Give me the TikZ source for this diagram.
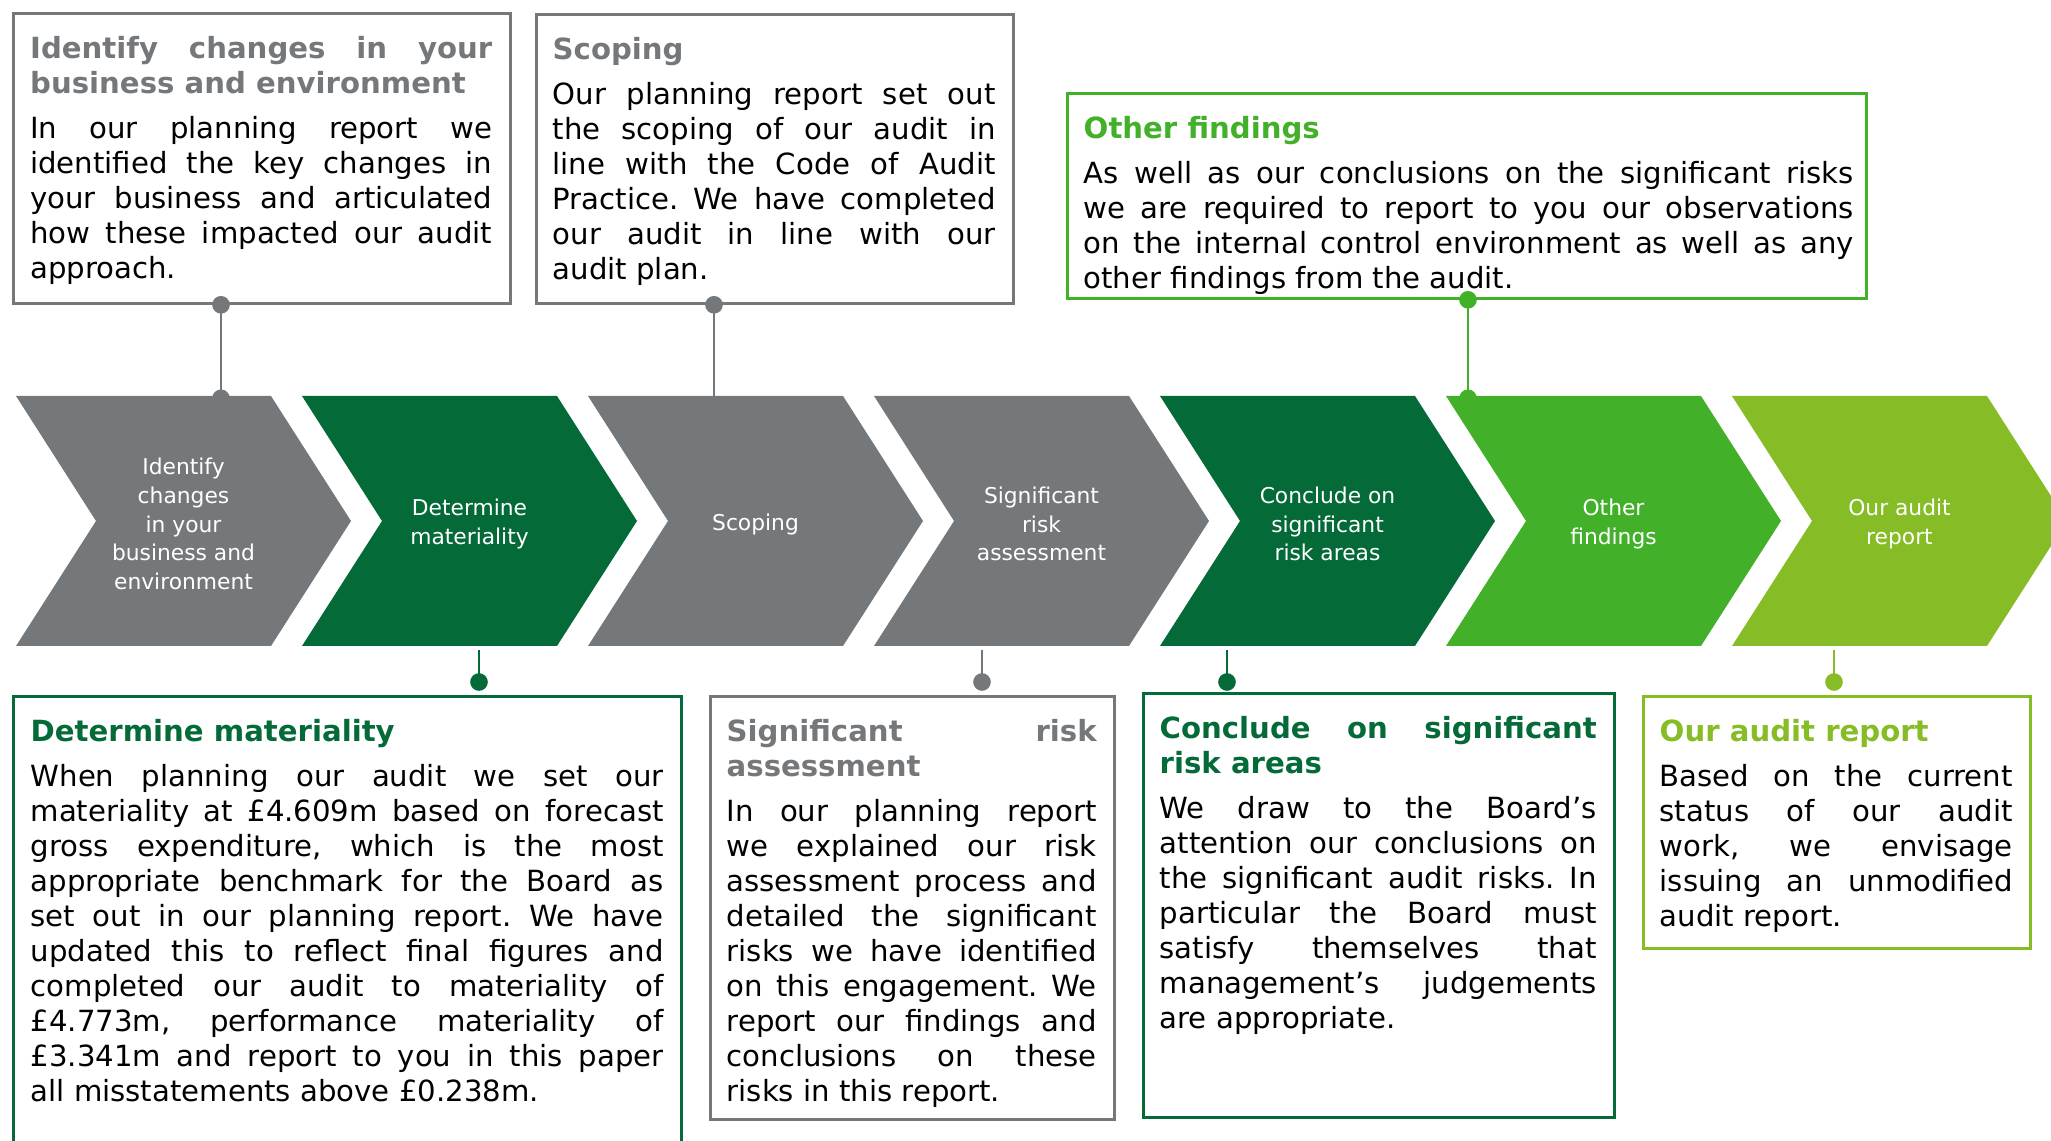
\documentclass[tikz,border=0pt]{standalone}
\usepackage{fontspec}
\setmainfont{DejaVu Sans}
\usetikzlibrary{arrows.meta}
\definecolor{dgray}{HTML}{75787B}
\definecolor{dgreen}{HTML}{046A38}
\definecolor{mgreen}{HTML}{43B02A}
\definecolor{lgreen}{HTML}{86BC25}
\hyphenpenalty=10000
\exhyphenpenalty=10000
\tolerance=10000
\frenchspacing
\newcommand{\calltitle}[2]{\leavevmode{\color{#1}\bfseries #2\par}\vspace{2.8pt}}

\begin{document}
\begin{tikzpicture}[x=1cm,y=-1cm,
    chevtext/.style={text=white,align=center,minimum height=2.5cm,inner sep=0pt,font=\fontsize{6.2}{8.2}\selectfont},
    callout/.style={draw=#1,line width=0.8pt,anchor=north west,inner sep=0pt},
    calltext/.style={anchor=base west,inner sep=0pt,align=justify,font=\fontsize{8.3}{9.96}\selectfont},
    link/.style={draw=#1,line width=0.8pt},
    bothdots/.style={arrows={{Circle[length=5pt]}-{Circle[length=5pt]}},shorten <=-2.5pt,shorten >=-2.5pt},
    startdot/.style={arrows={{Circle[length=5pt]}-},shorten <=-2.5pt},
    enddot/.style={arrows={-{Circle[length=5pt]}},shorten >=-2.5pt}]
    \useasboundingbox (0,0) rectangle (20.51,11.41);
    \clip (0,0) rectangle (20.51,11.41);

    % process chevrons
    \foreach \col/\txt [count=\i] in {dgray/{Identify\\changes\\in your\\business and\\environment},
        dgreen/{Determine\\materiality}, dgray/Scoping, dgray/{Significant\\risk\\assessment},
        dgreen/{Conclude on\\significant\\risk areas}, mgreen/{Other\\findings}, lgreen/{Our audit\\report}}
    {
        \fill[\col] ({0.16+2.86*(\i-1)},3.96) -- ++(2.55,0) -- ++(0.8,1.25) -- ++(-0.8,1.25)
            -- ++(-2.55,0) -- ++(0.8,-1.25) -- cycle;
        \node[chevtext] (chev\i) at ({1.835+2.86*(\i-1)},5.24) {\txt};
    }

    % callouts above
    \node[callout=dgray,minimum width=4.97cm,minimum height=2.90cm] (identify) at (0.12,0.12) {};
    \node[calltext,text width=4.62cm] (identifytext) at ([shift={(0.175,0.465)}]identify.north west)
        {\calltitle{dgray}{Identify changes in your\linebreak business and environment}
        In our planning report we\linebreak identified the key changes in\linebreak your business and articulated\linebreak
        how these impacted our audit\linebreak approach.};

    \node[callout=dgray,minimum width=4.77cm,minimum height=2.89cm] (scoping) at (5.35,0.13) {};
    \node[calltext,text width=4.43cm] (scopingtext) at ([shift={(0.17,0.465)}]scoping.north west)
        {\calltitle{dgray}{Scoping}
        Our planning report set out\linebreak the scoping of our audit in\linebreak line with the Code of Audit\linebreak
        Practice. We have completed\linebreak our audit in line with our\linebreak audit plan.};

    \node[callout=mgreen,minimum width=7.99cm,minimum height=2.05cm] (findings) at (10.66,0.92) {};
    \node[calltext,text width=7.70cm] (findingstext) at ([shift={(0.17,0.465)}]findings.north west)
        {\calltitle{mgreen}{Other findings}
        As well as our conclusions on the significant risks\linebreak we are required to report to you our observations\linebreak
        on the internal control environment as well as any\linebreak other findings from the audit.};

    % callouts below
    \node[callout=dgreen,minimum width=6.68cm,minimum height=5.0cm] (materiality) at (0.12,6.95) {};
    \node[calltext,text width=6.33cm] (materialitytext) at ([shift={(0.18,0.465)}]materiality.north west)
        {\calltitle{dgreen}{Determine materiality}
        When planning our audit we set our\linebreak materiality at £4.609m based on forecast\linebreak
        gross expenditure, which is the most\linebreak appropriate benchmark for the Board as\linebreak
        set out in our planning report. We have\linebreak updated this to reflect final figures and\linebreak
        completed our audit to materiality of\linebreak £4.773m, performance materiality of\linebreak
        £3.341m and report to you in this paper\linebreak all misstatements above £0.238m.};

    \node[callout=dgray,minimum width=4.04cm,minimum height=4.23cm] (risk) at (7.09,6.95) {};
    \node[calltext,text width=3.70cm] (risktext) at ([shift={(0.17,0.465)}]risk.north west)
        {\calltitle{dgray}{Significant risk\linebreak assessment}
        In our planning report\linebreak we explained our risk\linebreak assessment process and\linebreak
        detailed the significant\linebreak risks we have identified\linebreak on this engagement. We\linebreak
        report our findings and\linebreak conclusions on these\linebreak risks in this report.};

    \node[callout=dgreen,minimum width=4.71cm,minimum height=4.24cm] (conclude) at (11.42,6.92) {};
    \node[calltext,text width=4.37cm] (concludetext) at ([shift={(0.17,0.465)}]conclude.north west)
        {\calltitle{dgreen}{Conclude on significant\linebreak risk areas}
        We draw to the Board’s\linebreak attention our conclusions on\linebreak the significant audit risks. In\linebreak
        particular the Board must\linebreak satisfy themselves that\linebreak management’s judgements\linebreak
        are appropriate.};

    \node[callout=lgreen,minimum width=3.87cm,minimum height=2.52cm] (report) at (16.42,6.95) {};
    \node[calltext,text width=3.53cm] (reporttext) at ([shift={(0.17,0.465)}]report.north west)
        {\calltitle{lgreen}{Our audit report}
        Based on the current\linebreak status of our audit\linebreak work, we envisage\linebreak
        issuing an unmodified\linebreak audit report.};

    % connectors
    \coordinate (t1) at (2.21,0);
    \coordinate (t3) at (7.14,0);
    \coordinate (t6) at (14.68,0);
    \coordinate (b2) at (4.79,6.82);
    \coordinate (b4) at (9.82,6.82);
    \coordinate (b5) at (12.27,6.82);
    \coordinate (b7) at (18.34,6.82);
    \draw[link=dgray,bothdots] (identify.south -| t1) -- (chev1.north -| t1);
    \draw[link=dgray,startdot] (scoping.south -| t3) -- (chev3.north -| t3);
    \draw[link=mgreen,bothdots] (findings.south -| t6) -- (chev6.north -| t6);
    \draw[link=dgreen,enddot] (chev2.south -| b2) -- (b2);
    \draw[link=dgray,enddot] (chev4.south -| b4) -- (b4);
    \draw[link=dgreen,enddot] (chev5.south -| b5) -- (b5);
    \draw[link=lgreen,enddot] (chev7.south -| b7) -- (b7);
\end{tikzpicture}
\end{document}
